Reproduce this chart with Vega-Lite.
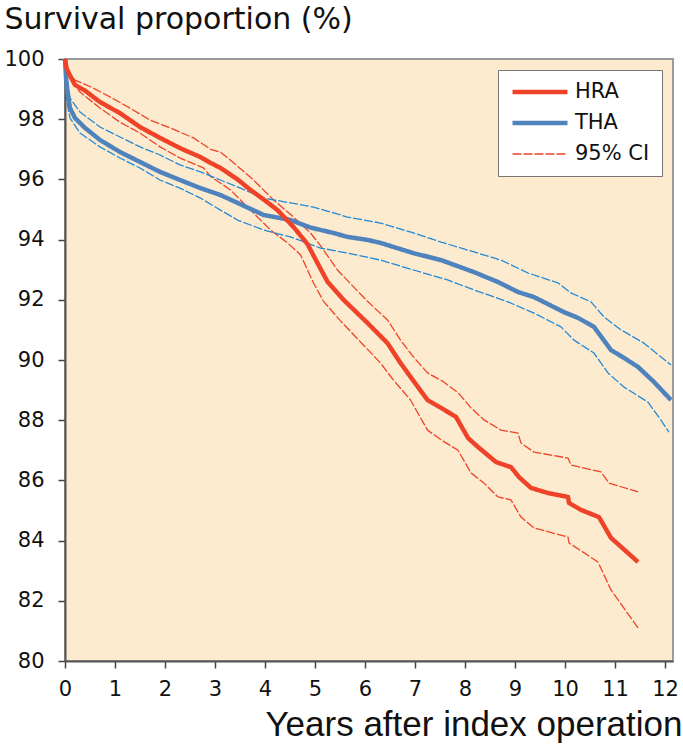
{
  "$schema": "https://vega.github.io/schema/vega-lite/v6.json",
  "width": 608,
  "height": 602,
  "autosize": "none",
  "padding": {"left": 65, "top": 59, "right": 10, "bottom": 86},
  "background": "white",
  "config": {
    "view": {"fill": "#FDEBD0", "stroke": "#9a9a9a", "strokeWidth": 2},
    "axis": {"grid": false, "domainColor": "#555555", "domainWidth": 2, "tickColor": "#444444", "tickWidth": 1.5, "tickSize": 7,
      "labelFont": "DejaVu Sans", "labelFontSize": 21, "labelColor": "#111111", "titleColor": "#111111", "titleFontWeight": "normal"},
    "legend": {"orient": "top-right", "offset": 11, "padding": 12, "fillColor": "white", "strokeColor": "#777777",
      "labelFont": "DejaVu Sans", "labelFontSize": 21, "labelColor": "#111111", "labelOffset": 5,
      "symbolSize": 3025, "symbolType": "stroke", "rowPadding": 10, "clipHeight": 20, "symbolOpacity": 1}
  },
  "data": {"values": [
      {"k": "HRA CI", "g": "HRA hi", "t": 0, "v": 100},
      {"k": "HRA CI", "g": "HRA hi", "t": 0.05, "v": 99.6},
      {"k": "HRA CI", "g": "HRA hi", "t": 0.2, "v": 99.3},
      {"k": "HRA CI", "g": "HRA hi", "t": 0.56, "v": 99.04},
      {"k": "HRA CI", "g": "HRA hi", "t": 0.9, "v": 98.74},
      {"k": "HRA CI", "g": "HRA hi", "t": 1.3, "v": 98.37},
      {"k": "HRA CI", "g": "HRA hi", "t": 1.7, "v": 97.97},
      {"k": "HRA CI", "g": "HRA hi", "t": 2.1, "v": 97.71},
      {"k": "HRA CI", "g": "HRA hi", "t": 2.57, "v": 97.38},
      {"k": "HRA CI", "g": "HRA hi", "t": 2.91, "v": 97.0},
      {"k": "HRA CI", "g": "HRA hi", "t": 3.11, "v": 96.9},
      {"k": "HRA CI", "g": "HRA hi", "t": 3.31, "v": 96.64},
      {"k": "HRA CI", "g": "HRA hi", "t": 3.77, "v": 95.98},
      {"k": "HRA CI", "g": "HRA hi", "t": 4.17, "v": 95.32},
      {"k": "HRA CI", "g": "HRA hi", "t": 4.57, "v": 94.75},
      {"k": "HRA CI", "g": "HRA hi", "t": 4.91, "v": 94.22},
      {"k": "HRA CI", "g": "HRA hi", "t": 5.11, "v": 93.8},
      {"k": "HRA CI", "g": "HRA hi", "t": 5.45, "v": 92.99},
      {"k": "HRA CI", "g": "HRA hi", "t": 5.77, "v": 92.43},
      {"k": "HRA CI", "g": "HRA hi", "t": 6.05, "v": 91.95},
      {"k": "HRA CI", "g": "HRA hi", "t": 6.45, "v": 91.33},
      {"k": "HRA CI", "g": "HRA hi", "t": 6.71, "v": 90.66},
      {"k": "HRA CI", "g": "HRA hi", "t": 6.97, "v": 90.1},
      {"k": "HRA CI", "g": "HRA hi", "t": 7.25, "v": 89.57},
      {"k": "HRA CI", "g": "HRA hi", "t": 7.55, "v": 89.3},
      {"k": "HRA CI", "g": "HRA hi", "t": 7.87, "v": 88.9},
      {"k": "HRA CI", "g": "HRA hi", "t": 8.12, "v": 88.41},
      {"k": "HRA CI", "g": "HRA hi", "t": 8.38, "v": 88.01},
      {"k": "HRA CI", "g": "HRA hi", "t": 8.72, "v": 87.67},
      {"k": "HRA CI", "g": "HRA hi", "t": 9.06, "v": 87.57},
      {"k": "HRA CI", "g": "HRA hi", "t": 9.12, "v": 87.24},
      {"k": "HRA CI", "g": "HRA hi", "t": 9.38, "v": 86.94},
      {"k": "HRA CI", "g": "HRA hi", "t": 10.06, "v": 86.74},
      {"k": "HRA CI", "g": "HRA hi", "t": 10.12, "v": 86.51},
      {"k": "HRA CI", "g": "HRA hi", "t": 10.72, "v": 86.28},
      {"k": "HRA CI", "g": "HRA hi", "t": 10.88, "v": 85.91},
      {"k": "HRA CI", "g": "HRA hi", "t": 11.46, "v": 85.62},

      {"k": "HRA CI", "g": "HRA lo", "t": 0, "v": 100},
      {"k": "HRA CI", "g": "HRA lo", "t": 0.1, "v": 99.37},
      {"k": "HRA CI", "g": "HRA lo", "t": 0.3, "v": 98.9},
      {"k": "HRA CI", "g": "HRA lo", "t": 0.7, "v": 98.37},
      {"k": "HRA CI", "g": "HRA lo", "t": 1.1, "v": 97.9},
      {"k": "HRA CI", "g": "HRA lo", "t": 1.5, "v": 97.54},
      {"k": "HRA CI", "g": "HRA lo", "t": 1.9, "v": 97.08},
      {"k": "HRA CI", "g": "HRA lo", "t": 2.3, "v": 96.71},
      {"k": "HRA CI", "g": "HRA lo", "t": 2.77, "v": 96.38},
      {"k": "HRA CI", "g": "HRA lo", "t": 2.91, "v": 96.1},
      {"k": "HRA CI", "g": "HRA lo", "t": 3.31, "v": 95.65},
      {"k": "HRA CI", "g": "HRA lo", "t": 3.71, "v": 94.98},
      {"k": "HRA CI", "g": "HRA lo", "t": 4.11, "v": 94.32},
      {"k": "HRA CI", "g": "HRA lo", "t": 4.45, "v": 93.89},
      {"k": "HRA CI", "g": "HRA lo", "t": 4.71, "v": 93.5},
      {"k": "HRA CI", "g": "HRA lo", "t": 4.97, "v": 92.56},
      {"k": "HRA CI", "g": "HRA lo", "t": 5.17, "v": 91.95},
      {"k": "HRA CI", "g": "HRA lo", "t": 5.51, "v": 91.3},
      {"k": "HRA CI", "g": "HRA lo", "t": 5.91, "v": 90.6},
      {"k": "HRA CI", "g": "HRA lo", "t": 6.31, "v": 89.9},
      {"k": "HRA CI", "g": "HRA lo", "t": 6.57, "v": 89.33},
      {"k": "HRA CI", "g": "HRA lo", "t": 6.91, "v": 88.67},
      {"k": "HRA CI", "g": "HRA lo", "t": 7.25, "v": 87.67},
      {"k": "HRA CI", "g": "HRA lo", "t": 7.52, "v": 87.35},
      {"k": "HRA CI", "g": "HRA lo", "t": 7.86, "v": 87.0},
      {"k": "HRA CI", "g": "HRA lo", "t": 8.12, "v": 86.25},
      {"k": "HRA CI", "g": "HRA lo", "t": 8.38, "v": 85.91},
      {"k": "HRA CI", "g": "HRA lo", "t": 8.66, "v": 85.45},
      {"k": "HRA CI", "g": "HRA lo", "t": 8.92, "v": 85.35},
      {"k": "HRA CI", "g": "HRA lo", "t": 9.12, "v": 84.78},
      {"k": "HRA CI", "g": "HRA lo", "t": 9.38, "v": 84.42},
      {"k": "HRA CI", "g": "HRA lo", "t": 10.06, "v": 84.12},
      {"k": "HRA CI", "g": "HRA lo", "t": 10.08, "v": 83.92},
      {"k": "HRA CI", "g": "HRA lo", "t": 10.66, "v": 83.29},
      {"k": "HRA CI", "g": "HRA lo", "t": 10.92, "v": 82.36},
      {"k": "HRA CI", "g": "HRA lo", "t": 11.46, "v": 81.1},

      {"k": "THA CI", "g": "THA hi", "t": 0, "v": 100},
      {"k": "THA CI", "g": "THA hi", "t": 0.02, "v": 99.6},
      {"k": "THA CI", "g": "THA hi", "t": 0.04, "v": 99.24},
      {"k": "THA CI", "g": "THA hi", "t": 0.1, "v": 98.7},
      {"k": "THA CI", "g": "THA hi", "t": 0.3, "v": 98.24},
      {"k": "THA CI", "g": "THA hi", "t": 0.7, "v": 97.74},
      {"k": "THA CI", "g": "THA hi", "t": 1.1, "v": 97.41},
      {"k": "THA CI", "g": "THA hi", "t": 1.5, "v": 97.08},
      {"k": "THA CI", "g": "THA hi", "t": 1.9, "v": 96.81},
      {"k": "THA CI", "g": "THA hi", "t": 2.3, "v": 96.48},
      {"k": "THA CI", "g": "THA hi", "t": 2.71, "v": 96.25},
      {"k": "THA CI", "g": "THA hi", "t": 3.11, "v": 95.98},
      {"k": "THA CI", "g": "THA hi", "t": 3.45, "v": 95.75},
      {"k": "THA CI", "g": "THA hi", "t": 3.97, "v": 95.38},
      {"k": "THA CI", "g": "THA hi", "t": 4.51, "v": 95.22},
      {"k": "THA CI", "g": "THA hi", "t": 4.97, "v": 95.08},
      {"k": "THA CI", "g": "THA hi", "t": 5.65, "v": 94.75},
      {"k": "THA CI", "g": "THA hi", "t": 6.31, "v": 94.55},
      {"k": "THA CI", "g": "THA hi", "t": 6.97, "v": 94.22},
      {"k": "THA CI", "g": "THA hi", "t": 7.52, "v": 93.92},
      {"k": "THA CI", "g": "THA hi", "t": 8.18, "v": 93.59},
      {"k": "THA CI", "g": "THA hi", "t": 8.72, "v": 93.32},
      {"k": "THA CI", "g": "THA hi", "t": 9.26, "v": 92.89},
      {"k": "THA CI", "g": "THA hi", "t": 9.86, "v": 92.56},
      {"k": "THA CI", "g": "THA hi", "t": 10.12, "v": 92.23},
      {"k": "THA CI", "g": "THA hi", "t": 10.52, "v": 91.93},
      {"k": "THA CI", "g": "THA hi", "t": 10.78, "v": 91.43},
      {"k": "THA CI", "g": "THA hi", "t": 11.12, "v": 91.0},
      {"k": "THA CI", "g": "THA hi", "t": 11.58, "v": 90.56},
      {"k": "THA CI", "g": "THA hi", "t": 12.12, "v": 89.83},

      {"k": "THA CI", "g": "THA lo", "t": 0, "v": 100},
      {"k": "THA CI", "g": "THA lo", "t": 0.02, "v": 99.2},
      {"k": "THA CI", "g": "THA lo", "t": 0.04, "v": 98.57},
      {"k": "THA CI", "g": "THA lo", "t": 0.1, "v": 98.04},
      {"k": "THA CI", "g": "THA lo", "t": 0.3, "v": 97.54},
      {"k": "THA CI", "g": "THA lo", "t": 0.7, "v": 97.08},
      {"k": "THA CI", "g": "THA lo", "t": 1.1, "v": 96.71},
      {"k": "THA CI", "g": "THA lo", "t": 1.5, "v": 96.38},
      {"k": "THA CI", "g": "THA lo", "t": 1.9, "v": 95.98},
      {"k": "THA CI", "g": "THA lo", "t": 2.3, "v": 95.71},
      {"k": "THA CI", "g": "THA lo", "t": 2.71, "v": 95.38},
      {"k": "THA CI", "g": "THA lo", "t": 3.11, "v": 94.98},
      {"k": "THA CI", "g": "THA lo", "t": 3.45, "v": 94.65},
      {"k": "THA CI", "g": "THA lo", "t": 3.97, "v": 94.32},
      {"k": "THA CI", "g": "THA lo", "t": 4.51, "v": 94.09},
      {"k": "THA CI", "g": "THA lo", "t": 5.11, "v": 93.72},
      {"k": "THA CI", "g": "THA lo", "t": 5.65, "v": 93.55},
      {"k": "THA CI", "g": "THA lo", "t": 6.31, "v": 93.32},
      {"k": "THA CI", "g": "THA lo", "t": 6.97, "v": 92.99},
      {"k": "THA CI", "g": "THA lo", "t": 7.65, "v": 92.66},
      {"k": "THA CI", "g": "THA lo", "t": 8.18, "v": 92.33},
      {"k": "THA CI", "g": "THA lo", "t": 8.86, "v": 91.93},
      {"k": "THA CI", "g": "THA lo", "t": 9.38, "v": 91.56},
      {"k": "THA CI", "g": "THA lo", "t": 9.92, "v": 91.1},
      {"k": "THA CI", "g": "THA lo", "t": 10.18, "v": 90.66},
      {"k": "THA CI", "g": "THA lo", "t": 10.58, "v": 90.23},
      {"k": "THA CI", "g": "THA lo", "t": 10.86, "v": 89.57},
      {"k": "THA CI", "g": "THA lo", "t": 11.18, "v": 89.1},
      {"k": "THA CI", "g": "THA lo", "t": 11.66, "v": 88.6},
      {"k": "THA CI", "g": "THA lo", "t": 11.92, "v": 88.0},
      {"k": "THA CI", "g": "THA lo", "t": 12.08, "v": 87.6},

      {"k": "THA", "g": "THA est", "t": 0, "v": 100},
      {"k": "THA", "g": "THA est", "t": 0.02, "v": 99.4},
      {"k": "THA", "g": "THA est", "t": 0.04, "v": 99.04},
      {"k": "THA", "g": "THA est", "t": 0.1, "v": 98.37},
      {"k": "THA", "g": "THA est", "t": 0.2, "v": 98.04},
      {"k": "THA", "g": "THA est", "t": 0.4, "v": 97.71},
      {"k": "THA", "g": "THA est", "t": 0.7, "v": 97.31},
      {"k": "THA", "g": "THA est", "t": 1.1, "v": 96.91},
      {"k": "THA", "g": "THA est", "t": 1.5, "v": 96.58},
      {"k": "THA", "g": "THA est", "t": 1.9, "v": 96.25},
      {"k": "THA", "g": "THA est", "t": 2.3, "v": 95.98},
      {"k": "THA", "g": "THA est", "t": 2.71, "v": 95.71},
      {"k": "THA", "g": "THA est", "t": 3.11, "v": 95.48},
      {"k": "THA", "g": "THA est", "t": 3.45, "v": 95.22},
      {"k": "THA", "g": "THA est", "t": 3.97, "v": 94.82},
      {"k": "THA", "g": "THA est", "t": 4.51, "v": 94.65},
      {"k": "THA", "g": "THA est", "t": 4.91, "v": 94.4},
      {"k": "THA", "g": "THA est", "t": 5.37, "v": 94.22},
      {"k": "THA", "g": "THA est", "t": 5.65, "v": 94.09},
      {"k": "THA", "g": "THA est", "t": 6.05, "v": 93.99},
      {"k": "THA", "g": "THA est", "t": 6.31, "v": 93.89},
      {"k": "THA", "g": "THA est", "t": 6.97, "v": 93.55},
      {"k": "THA", "g": "THA est", "t": 7.52, "v": 93.32},
      {"k": "THA", "g": "THA est", "t": 8.18, "v": 92.92},
      {"k": "THA", "g": "THA est", "t": 8.66, "v": 92.59},
      {"k": "THA", "g": "THA est", "t": 9.06, "v": 92.26},
      {"k": "THA", "g": "THA est", "t": 9.38, "v": 92.09},
      {"k": "THA", "g": "THA est", "t": 9.98, "v": 91.59},
      {"k": "THA", "g": "THA est", "t": 10.26, "v": 91.4},
      {"k": "THA", "g": "THA est", "t": 10.58, "v": 91.1},
      {"k": "THA", "g": "THA est", "t": 10.92, "v": 90.33},
      {"k": "THA", "g": "THA est", "t": 11.18, "v": 90.07},
      {"k": "THA", "g": "THA est", "t": 11.46, "v": 89.77},
      {"k": "THA", "g": "THA est", "t": 11.78, "v": 89.27},
      {"k": "THA", "g": "THA est", "t": 12.12, "v": 88.67},

      {"k": "HRA", "g": "HRA est", "t": 0, "v": 100},
      {"k": "HRA", "g": "HRA est", "t": 0.03, "v": 99.7},
      {"k": "HRA", "g": "HRA est", "t": 0.1, "v": 99.45},
      {"k": "HRA", "g": "HRA est", "t": 0.2, "v": 99.14},
      {"k": "HRA", "g": "HRA est", "t": 0.4, "v": 98.95},
      {"k": "HRA", "g": "HRA est", "t": 0.7, "v": 98.57},
      {"k": "HRA", "g": "HRA est", "t": 1.1, "v": 98.2},
      {"k": "HRA", "g": "HRA est", "t": 1.5, "v": 97.74},
      {"k": "HRA", "g": "HRA est", "t": 1.9, "v": 97.38},
      {"k": "HRA", "g": "HRA est", "t": 2.3, "v": 97.04},
      {"k": "HRA", "g": "HRA est", "t": 2.71, "v": 96.74},
      {"k": "HRA", "g": "HRA est", "t": 2.91, "v": 96.55},
      {"k": "HRA", "g": "HRA est", "t": 3.11, "v": 96.38},
      {"k": "HRA", "g": "HRA est", "t": 3.45, "v": 96.0},
      {"k": "HRA", "g": "HRA est", "t": 3.71, "v": 95.65},
      {"k": "HRA", "g": "HRA est", "t": 4.0, "v": 95.3},
      {"k": "HRA", "g": "HRA est", "t": 4.25, "v": 94.98},
      {"k": "HRA", "g": "HRA est", "t": 4.57, "v": 94.42},
      {"k": "HRA", "g": "HRA est", "t": 4.85, "v": 93.85},
      {"k": "HRA", "g": "HRA est", "t": 5.05, "v": 93.22},
      {"k": "HRA", "g": "HRA est", "t": 5.25, "v": 92.6},
      {"k": "HRA", "g": "HRA est", "t": 5.57, "v": 92.0},
      {"k": "HRA", "g": "HRA est", "t": 6.05, "v": 91.23},
      {"k": "HRA", "g": "HRA est", "t": 6.45, "v": 90.56},
      {"k": "HRA", "g": "HRA est", "t": 6.71, "v": 89.9},
      {"k": "HRA", "g": "HRA est", "t": 6.91, "v": 89.44},
      {"k": "HRA", "g": "HRA est", "t": 7.25, "v": 88.67},
      {"k": "HRA", "g": "HRA est", "t": 7.52, "v": 88.41},
      {"k": "HRA", "g": "HRA est", "t": 7.82, "v": 88.11},
      {"k": "HRA", "g": "HRA est", "t": 8.06, "v": 87.41},
      {"k": "HRA", "g": "HRA est", "t": 8.26, "v": 87.11},
      {"k": "HRA", "g": "HRA est", "t": 8.62, "v": 86.61},
      {"k": "HRA", "g": "HRA est", "t": 8.92, "v": 86.44},
      {"k": "HRA", "g": "HRA est", "t": 9.08, "v": 86.11},
      {"k": "HRA", "g": "HRA est", "t": 9.32, "v": 85.75},
      {"k": "HRA", "g": "HRA est", "t": 9.66, "v": 85.58},
      {"k": "HRA", "g": "HRA est", "t": 10.06, "v": 85.45},
      {"k": "HRA", "g": "HRA est", "t": 10.08, "v": 85.25},
      {"k": "HRA", "g": "HRA est", "t": 10.32, "v": 85.02},
      {"k": "HRA", "g": "HRA est", "t": 10.68, "v": 84.78},
      {"k": "HRA", "g": "HRA est", "t": 10.92, "v": 84.09},
      {"k": "HRA", "g": "HRA est", "t": 11.46, "v": 83.29}
  ]},
  "mark": {"type": "line", "strokeCap": "butt", "strokeJoin": "round"},
  "encoding": {
    "x": {"field": "t", "type": "quantitative",
      "scale": {"domain": [0, 12.16], "nice": false, "zero": false},
      "axis": {"values": [0, 1, 2, 3, 4, 5, 6, 7, 8, 9, 10, 11, 12], "labelPadding": 10, "labelFlush": false,
        "title": "Years after index operation", "titleFont": "Liberation Sans", "titleFontSize": 35,
        "titleAnchor": "end", "titleAlign": "right", "titleBaseline": "alphabetic", "titleX": 617, "titleY": 74}},
    "y": {"field": "v", "type": "quantitative",
      "scale": {"domain": [80, 100], "nice": false, "zero": false},
      "axis": {"values": [80, 82, 84, 86, 88, 90, 92, 94, 96, 98, 100], "labelPadding": 14, "labelFlush": false,
        "title": "Survival proportion (%)", "titleFont": "DejaVu Sans", "titleFontSize": 30, "titleAngle": 0,
        "titleAlign": "left", "titleBaseline": "alphabetic", "titleAnchor": "start", "titleX": -61, "titleY": -31}},
    "strokeWidth": {"field": "k", "type": "nominal",
      "scale": {"type": "ordinal", "domain": ["HRA", "THA", "HRA CI", "THA CI"], "range": [4.5, 4.5, 1.3, 1.3]},
      "legend": {"title": null, "values": ["HRA", "THA", "HRA CI"], "labelExpr": "datum.value === 'HRA CI' ? '95% CI' : datum.value"}},
    "strokeDash": {"field": "k", "type": "nominal",
      "scale": {"domain": ["HRA", "THA", "HRA CI", "THA CI"], "range": [[1, 0], [1, 0], [9, 2], [9, 2]]},
      "legend": {"title": null, "values": ["HRA", "THA", "HRA CI"], "labelExpr": "datum.value === 'HRA CI' ? '95% CI' : datum.value"}},
    "color": {"field": "k", "type": "nominal",
      "scale": {"domain": ["HRA", "THA", "HRA CI", "THA CI"], "range": ["#EE4329", "#4F83BD", "#EE4329", "#2389D6"]},
      "legend": {"title": null, "values": ["HRA", "THA", "HRA CI"], "labelExpr": "datum.value === 'HRA CI' ? '95% CI' : datum.value"}},
    "detail": {"field": "g", "type": "nominal"}
  }
}
